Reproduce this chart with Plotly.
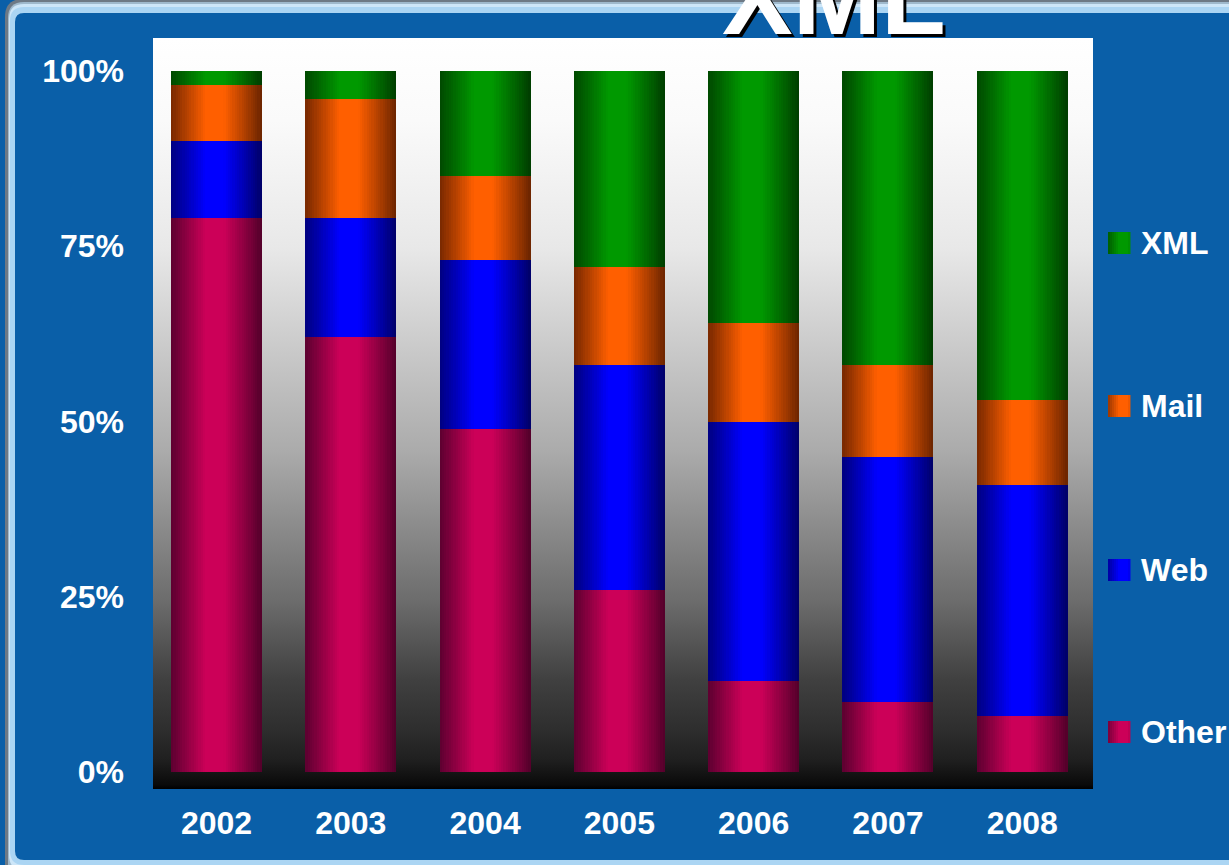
import plotly.graph_objects as go

# ---- data -------------------------------------------------------------
years = ["2002", "2003", "2004", "2005", "2006", "2007", "2008"]
other = [79, 62, 49, 26, 13, 10, 8]
web = [11, 17, 24, 32, 37, 35, 33]
mail = [8, 17, 12, 14, 14, 13, 12]
xml = [2, 4, 15, 28, 36, 42, 47]

series_names = ["Other", "Web", "Mail", "XML"]
y_tick_vals = [0, 25, 50, 75, 100]
y_tick_labels = ["0%", "25%", "50%", "75%", "100%"]
title_text = "XML"

# ---- styling ----------------------------------------------------------
FONT = "Liberation Sans, Arial, sans-serif"
BG_BLUE = "#0a5fa8"
W, H = 1229, 865
L, R, T, B = 153, 1093, 38, 789          # plot area in pixels

# (left edge, centre, right edge) of the cylinder-like shading per series
shades = {
    "Other": ((0x5c, 0x00, 0x30), (0xcc, 0x00, 0x58), (0x52, 0x00, 0x2a)),
    "Web":   ((0x00, 0x00, 0x80), (0x00, 0x00, 0xff), (0x00, 0x00, 0x66)),
    "Mail":  ((0x78, 0x28, 0x00), (0xff, 0x5f, 0x00), (0x6a, 0x24, 0x00)),
    "XML":   ((0x00, 0x48, 0x00), (0x00, 0x99, 0x00), (0x00, 0x3c, 0x00)),
}


def shade_at(name, t):
    dl, br, dr = shades[name]
    if t < 0.38:
        f = t / 0.38
    elif t < 0.58:
        f = 1.0
    else:
        f = (1 - t) / 0.42
    dark = [dl[i] + (dr[i] - dl[i]) * t for i in range(3)]
    c = [round(dark[i] + (br[i] - dark[i]) * f) for i in range(3)]
    return "rgb({},{},{})".format(*c)


def px_x(x):
    return (x - L) / (R - L)


def px_y(y):
    return (B - y) / (B - T)


# axis ranges so that 0 % / 100 % and category centres land where wanted
x0_range = -0.473
x1_range = x0_range + 7
y0_range = -2.425
y1_range = 104.71

fig = go.Figure()

# plot-area background: vertical white-to-black gradient (base axes)
fig.add_trace(go.Scatter(
    x=[x0_range, x1_range, x1_range, x0_range, x0_range],
    y=[y0_range, y0_range, y1_range, y1_range, y0_range],
    mode="lines", line=dict(width=0), fill="toself",
    fillgradient=dict(
        type="vertical",
        colorscale=[
            [0.0, "rgb(0,0,0)"],
            [0.006, "rgb(10,10,10)"],
            [0.04, "rgb(32,32,32)"],
            [0.08, "rgb(46,46,46)"],
            [0.145, "rgb(64,64,64)"],
            [0.25, "rgb(108,108,108)"],
            [0.45, "rgb(171,171,171)"],
            [0.72, "rgb(232,232,232)"],
            [0.89, "rgb(250,250,250)"],
            [1.0, "rgb(255,255,255)"],
        ],
    ),
    hoverinfo="skip", showlegend=False,
))

# stacked bars on overlaid axes, each drawn as thin vertical strips
xs = list(range(len(years)))
values = {"Other": other, "Web": web, "Mail": mail, "XML": xml}
bar_w = 0.678
n_strips = 40
base = [0] * len(years)
for name in series_names:
    vals = values[name]
    for k in range(n_strips):
        t = (k + 0.5) / n_strips
        fig.add_trace(go.Bar(
            x=xs, y=vals, base=list(base),
            offset=-bar_w / 2 + k * bar_w / n_strips,
            width=bar_w / n_strips,
            marker=dict(color=shade_at(name, t), line=dict(width=0)),
            hoverinfo="skip", showlegend=False,
            xaxis="x2", yaxis="y2",
        ))
    base = [b + v for b, v in zip(base, vals)]

# ---- frame ------------------------------------------------------------
def rounded_rect(x0, y0, x1, y1, r):
    X0, X1 = px_x(x0), px_x(x1)
    Y0, Y1 = px_y(y0), px_y(y1)
    rx = r / (R - L)
    ry = r / (B - T)
    return (f"M {X0+rx},{Y0} L {X1-rx},{Y0} Q {X1},{Y0} {X1},{Y0-ry} "
            f"L {X1},{Y1+ry} Q {X1},{Y1} {X1-rx},{Y1} "
            f"L {X0+rx},{Y1} Q {X0},{Y1} {X0},{Y1+ry} "
            f"L {X0},{Y0-ry} Q {X0},{Y0} {X0+rx},{Y0} Z")


shapes = []
frame_layers = [
    (5, -1, 1262, 898, 18, "#6d7985"),
    (8, 2, 1259, 880, 16, "#9fb9cc"),
    (9, 4, 1258, 870, 15, "#cde6f8"),
    (10, 7, 1256, 865, 14, "#abd5f3"),
    (15, 13, 1250, 860, 9, BG_BLUE),
]
for x0, y0, x1, y1, r, c in frame_layers:
    shapes.append(dict(type="path", xref="paper", yref="paper",
                       path=rounded_rect(x0, y0, x1, y1, r),
                       fillcolor=c, line=dict(width=0), layer="below"))

# ---- legend (manual, evenly spread down the right side) --------------
annotations = []
legend_order = ["XML", "Mail", "Web", "Other"]
legend_y = [243, 406, 570, 732]
sw_x0, sw_x1 = 1108, 1130
sw_strips = 11
for name, ly in zip(legend_order, legend_y):
    for k in range(sw_strips):
        t = (k + 0.5) / sw_strips
        a = sw_x0 + (sw_x1 - sw_x0) * k / sw_strips
        b = sw_x0 + (sw_x1 - sw_x0) * (k + 1) / sw_strips
        shapes.append(dict(type="rect", xref="paper", yref="paper",
                           x0=px_x(a), x1=px_x(b) + 0.0005,
                           y0=px_y(ly + 11), y1=px_y(ly - 11),
                           fillcolor=shade_at(name, 0.1 + 0.55 * t),
                           line=dict(width=0), layer="above"))
    annotations.append(dict(text=name, xref="paper", yref="paper",
                            x=px_x(1139), y=px_y(ly), xanchor="left",
                            yanchor="middle", showarrow=False,
                            font=dict(family=FONT, size=32, color="white",
                                      weight="bold")))

# ---- title with drop shadow -----------------------------------------
for color, dx, dy in (("black", 3, -3), ("white", 0, 0)):
    annotations.append(dict(text=title_text, xref="paper", yref="paper",
                            x=px_x(834), y=px_y(-3), xanchor="center",
                            yanchor="middle", xshift=dx, yshift=dy,
                            showarrow=False,
                            font=dict(family=FONT, size=106, color=color,
                                      weight="bold")))

axis_common = dict(showgrid=False, zeroline=False, showline=False,
                   ticks="", fixedrange=True)
tick_font = dict(family=FONT, size=32, color="white", weight="bold")

fig.update_layout(
    width=W, height=H,
    margin=dict(l=L, r=W - R, t=T, b=H - B, pad=0),
    paper_bgcolor=BG_BLUE,
    plot_bgcolor="rgba(0,0,0,0)",
    barmode="overlay",
    bargap=0,
    showlegend=False,
    shapes=shapes,
    annotations=annotations,
    font=dict(family=FONT, color="white", size=32, weight="bold"),
    xaxis=dict(range=[x0_range, x1_range], tickvals=xs, ticktext=years,
               ticklabelstandoff=12, tickfont=tick_font, **axis_common),
    yaxis=dict(range=[y0_range, y1_range], tickvals=y_tick_vals,
               ticktext=y_tick_labels, ticklabelstandoff=28,
               tickfont=tick_font, **axis_common),
    xaxis2=dict(range=[x0_range, x1_range], overlaying="x", visible=False,
                **axis_common),
    yaxis2=dict(range=[y0_range, y1_range], overlaying="y", visible=False,
                **axis_common),
)

fig.write_html("out.html")
